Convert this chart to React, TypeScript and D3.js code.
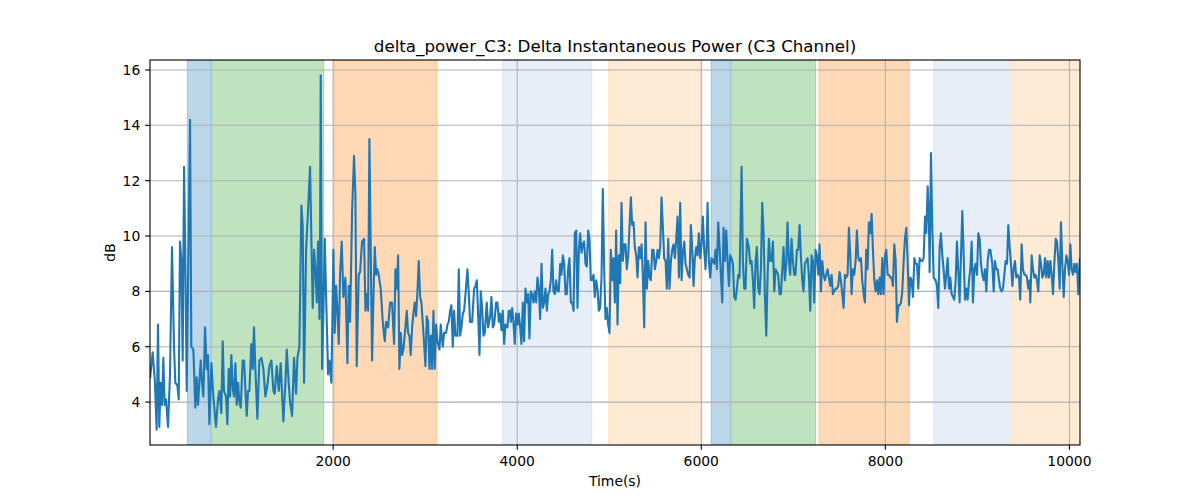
import React from "react";
import * as d3 from "d3";

type P = [number, number];

const seg1: P[] = [[10,4.85],[39,5.8],[64,4.7],[82,3.0],[97,6.8],[111,3.1],[126,4.7],[140,3.9],[155,5.6],[169,3.9],[184,4.1],[206,3.1],[227,5.0],[249,9.6],[271,6.0],[285,4.7],[307,4.6],[322,4.1],[336,9.8],[351,9.1],[365,5.5],[380,12.5],[394,9.1],[409,4.4],[445,14.2],[459,6.0],[481,5.9],[503,3.8],[517,4.9],[532,3.9],[546,4.7],[561,5.5],[575,4.7],[590,4.2],[608,6.7],[626,5.2],[640,5.7],[655,3.2],[677,5.4],[698,4.2],[727,3.1],[749,4.1],[764,4.4],[785,3.6],[800,6.2],[814,4.4],[836,4.2],[851,3.2],[865,5.2],[880,4.2],[894,5.7],[909,4.5],[923,4.2],[938,5.4],[952,3.9],[967,4.7],[981,4.0],[996,3.8],[1017,5.5],[1032,5.5],[1046,4.5],[1061,3.5],[1075,4.4],[1090,4.4],[1111,6.1],[1126,5.2],[1140,6.7],[1155,5.2],[1177,3.4],[1198,5.5],[1220,5.6],[1242,5.2],[1264,4.2],[1285,4.6],[1307,5.3]];
const seg2: P[] = [[1329,5.5],[1351,4.4],[1365,4.3],[1387,5.3],[1409,4.4],[1430,5.4],[1459,3.3],[1481,4.7],[1496,5.9],[1517,4.7],[1532,4.0],[1554,3.5],[1575,5.6],[1597,4.3],[1612,5.6],[1633,6.0],[1655,11.1],[1669,10.4],[1684,4.7],[1706,9.5],[1727,10.9],[1749,12.5],[1764,9.8],[1778,7.4],[1793,9.5],[1807,8.8],[1822,7.6],[1836,9.8],[1851,7.0],[1858,9.8],[1865,15.8],[1880,5.2],[1894,7.3],[1909,9.9],[1923,7.9],[1945,5.0],[1959,5.5],[1981,4.7],[2003,9.5],[2017,6.5],[2032,8.2],[2046,7.3],[2061,6.1],[2075,8.6],[2093,9.8],[2111,7.8],[2133,8.5],[2155,5.4],[2169,8.2],[2184,6.9],[2206,10.9],[2227,12.9],[2242,11.5],[2256,5.3],[2278,8.6],[2293,8.7],[2314,9.8],[2336,9.9],[2351,7.3],[2365,7.9],[2380,7.3],[2394,13.5],[2409,9.3],[2423,5.5],[2438,7.8],[2452,9.6],[2467,8.6],[2481,8.8],[2495,8.6],[2517,8.1],[2539,6.9],[2561,6.2],[2575,6.9],[2597,6.7],[2619,7.6]];
const seg3: P[] = [[2640,7.6],[2662,6.1],[2677,8.8],[2691,8.1],[2706,9.3],[2720,5.2],[2735,6.5],[2749,5.7],[2764,5.9],[2785,6.7],[2800,7.3],[2814,6.5],[2829,6.4],[2843,5.7],[2858,6.7],[2872,7.2],[2887,7.6],[2901,7.1],[2916,8.0],[2930,9.1],[2945,7.8],[2959,7.6],[2981,6.5],[3003,5.3],[3017,7.1],[3032,6.9],[3046,5.2],[3061,6.4],[3075,5.2],[3090,7.3],[3104,5.2],[3119,6.8],[3133,6.2],[3155,5.9],[3169,6.8],[3191,6.0],[3206,6.5],[3227,6.5],[3242,6.8],[3256,6.9],[3271,7.3],[3285,7.5],[3300,6.0],[3314,7.3],[3329,6.4],[3351,6.4],[3365,8.8],[3380,6.4],[3394,6.7],[3409,7.2],[3423,7.3],[3438,7.9],[3459,8.8],[3474,7.9],[3488,6.9],[3510,6.9],[3532,8.1],[3546,8.2],[3561,8.4],[3575,7.2],[3590,5.7],[3604,8.0],[3619,7.4],[3633,6.4],[3648,6.5],[3669,7.6],[3684,6.7],[3706,7.1],[3720,7.8],[3735,6.7],[3749,6.8],[3771,7.6],[3785,7.6],[3800,6.9],[3814,7.2],[3829,6.6],[3843,7.3],[3858,6.1],[3872,6.8],[3894,6.7],[3908,7.3],[3923,7.3]];
const seg4: P[] = [[3930,6.9],[3945,7.4],[3959,6.9],[3974,6.1],[3988,7.2],[4003,6.8],[4017,7.2],[4032,6.7],[4046,6.1],[4061,7.6],[4075,6.2],[4090,8.1],[4104,7.6],[4119,7.9],[4133,6.3],[4148,8.0],[4162,7.9],[4177,7.6],[4191,8.0],[4206,7.6],[4220,8.5],[4235,8.1],[4249,7.0],[4264,9.0],[4278,7.4],[4293,7.6],[4307,8.1],[4322,7.3],[4336,7.9],[4351,8.0],[4365,8.4],[4380,9.5],[4394,8.0],[4409,7.9],[4423,8.4],[4438,8.0],[4452,8.0],[4467,9.0],[4481,8.6],[4496,9.3],[4510,9.0],[4525,7.9],[4539,7.9],[4554,8.8],[4568,9.2],[4583,7.6],[4597,7.6],[4612,7.3],[4626,10.1],[4641,10.2],[4655,7.4],[4670,9.5],[4684,10.1],[4699,9.4],[4713,9.7],[4727,9.8],[4742,9.0],[4756,8.9],[4771,10.2],[4785,9.9],[4800,8.4],[4814,8.4],[4829,8.6],[4843,7.8],[4858,8.4],[4872,8.1],[4887,7.3],[4901,7.4],[4916,8.5],[4930,11.7],[4945,8.8],[4959,7.0],[4974,7.4],[4988,6.8],[5003,6.5],[5017,9.5],[5032,8.4],[5046,9.2],[5061,7.6],[5075,10.2],[5090,6.8],[5104,9.3],[5119,8.3],[5133,11.2],[5148,9.1],[5162,9.7],[5177,9.7],[5191,8.8],[5206,9.3]];
const seg5: P[] = [[5235,11.4],[5249,10.4],[5264,10.5],[5278,9.6],[5293,9.3],[5307,8.5],[5322,9.6],[5336,9.2],[5351,9.7],[5365,8.6],[5380,6.7],[5394,10.5],[5409,8.1],[5423,9.1],[5438,8.5],[5452,8.4],[5467,9.5],[5481,9.5],[5496,8.8],[5510,9.1],[5525,9.5],[5539,9.2],[5554,9.6],[5568,11.4],[5583,10.3],[5597,9.2],[5612,9.1],[5626,8.1],[5641,9.9],[5655,8.1],[5670,9.1],[5684,9.5],[5699,9.7],[5713,9.2],[5728,9.9],[5742,10.7],[5757,8.5],[5771,11.2],[5786,8.4],[5800,9.4],[5815,9.8],[5829,9.0],[5844,8.8],[5858,8.6],[5873,8.5],[5887,10.4],[5901,9.6],[5916,8.2],[5930,9.2],[5945,9.6],[5959,9.3],[5974,10.1],[5988,9.2],[6003,9.7],[6017,10.7],[6032,9.5],[6046,8.8],[6061,9.9],[6068,11.2],[6083,9.1],[6097,8.5],[6112,9.2],[6126,9.1],[6141,9.0],[6155,9.5],[6170,8.8],[6184,10.5],[6199,9.6],[6213,8.6],[6228,7.6],[6242,10.3],[6257,9.1],[6271,10.2],[6286,9.1],[6300,8.2],[6315,9.3],[6329,9.2],[6344,9.0],[6358,7.8],[6373,7.7],[6387,8.1],[6402,8.6],[6416,8.5],[6438,12.5],[6452,9.1],[6467,8.1],[6481,8.1],[6496,9.9],[6517,9.6]];
const seg6: P[] = [[6532,9.0],[6546,9.1],[6561,8.4],[6575,7.4],[6590,9.1],[6604,9.6],[6619,8.1],[6633,7.9],[6648,8.8],[6662,11.2],[6677,10.1],[6691,7.9],[6706,6.4],[6720,8.5],[6735,9.9],[6749,9.1],[6764,9.1],[6778,9.8],[6793,8.0],[6807,8.8],[6822,8.7],[6836,8.6],[6851,7.9],[6865,7.9],[6880,8.8],[6894,9.6],[6908,8.4],[6923,9.0],[6937,10.5],[6952,9.1],[6966,8.6],[6981,9.9],[6995,9.1],[7010,8.6],[7024,8.6],[7039,9.5],[7053,9.5],[7068,10.4],[7082,9.3],[7097,8.4],[7111,8.0],[7126,9.0],[7140,9.1],[7155,9.2],[7169,8.6],[7184,7.3],[7198,9.3],[7213,9.1],[7227,7.6],[7242,9.5],[7256,9.3],[7271,8.6],[7285,9.7],[7300,8.0],[7314,9.1],[7329,8.6],[7343,8.4],[7358,8.6],[7372,8.8],[7387,8.5],[7401,8.2],[7416,8.6],[7430,7.9],[7445,8.0],[7459,8.1],[7474,8.1],[7488,8.2],[7503,8.7],[7517,8.4],[7532,7.9],[7546,7.4],[7561,8.6],[7575,8.5],[7590,8.6],[7604,10.3],[7619,9.3],[7633,7.9],[7648,8.8],[7662,8.6],[7677,9.1],[7691,10.2],[7706,9.2],[7720,9.1],[7735,9.2],[7749,8.4],[7764,7.9],[7778,7.6],[7792,9.5],[7807,8.8],[7821,10.5],[7836,10.1]];
const seg7: P[] = [[7851,10.8],[7865,9.5],[7880,8.4],[7894,8.0],[7909,8.4],[7923,7.9],[7938,8.5],[7952,7.9],[7967,9.2],[7981,7.9],[7996,9.3],[8010,9.5],[8025,8.6],[8039,8.6],[8054,8.5],[8068,8.5],[8083,8.2],[8097,9.7],[8112,9.1],[8126,6.9],[8141,7.5],[8155,7.5],[8170,7.6],[8184,8.0],[8199,9.1],[8213,9.9],[8228,10.3],[8242,9.1],[8257,7.5],[8271,8.5],[8286,8.4],[8300,7.8],[8315,9.2],[8329,9.0],[8344,9.0],[8358,8.1],[8373,9.2],[8387,9.1],[8402,9.1],[8416,9.2],[8431,10.7],[8445,10.1],[8460,11.8],[8474,10.4],[8481,8.7],[8496,13.0],[8510,10.3],[8525,8.5],[8546,8.4],[8561,8.2],[8575,7.4],[8590,9.6],[8604,10.1],[8619,9.3],[8633,8.8],[8648,8.1],[8662,8.6],[8677,9.2],[8691,8.1],[8706,8.5],[8720,7.9],[8735,7.8],[8749,7.7],[8764,8.4],[8778,9.8],[8793,8.7],[8807,7.6],[8822,9.3],[8836,10.9],[8851,9.3],[8865,7.7],[8880,8.1],[8894,7.7],[8909,8.4],[8923,8.8],[8938,9.8],[8952,7.6],[8967,8.8],[8981,9.0],[8996,8.6],[9010,10.1],[9025,9.9],[9039,9.0],[9054,8.6],[9068,8.4],[9083,8.8],[9097,8.0],[9112,9.1],[9126,9.5],[9141,9.5]];
const seg8: P[] = [[9162,9.0],[9177,8.0],[9191,9.1],[9206,8.8],[9220,8.8],[9235,8.4],[9249,8.1],[9264,8.0],[9278,8.1],[9293,8.6],[9307,9.1],[9322,9.0],[9336,10.4],[9351,9.6],[9365,9.0],[9380,8.2],[9394,8.8],[9408,9.1],[9423,8.5],[9437,8.6],[9452,8.5],[9466,7.7],[9481,9.7],[9495,8.8],[9510,8.6],[9524,8.6],[9539,8.5],[9553,8.1],[9568,8.4],[9575,7.6],[9590,9.3],[9604,8.8],[9619,8.5],[9633,8.6],[9648,8.4],[9662,8.0],[9677,9.3],[9691,9.0],[9706,8.5],[9720,8.6],[9735,9.2],[9749,8.5],[9764,9.1],[9778,8.5],[9793,9.1],[9807,8.6],[9822,7.9],[9836,9.0],[9851,9.9],[9865,9.8],[9880,9.1],[9894,8.1],[9908,10.5],[9923,9.0],[9938,7.8],[9952,8.8],[9967,9.3],[9981,9.1],[9996,8.6],[10010,9.7],[10024,8.8],[10039,8.6],[10053,9.0],[10068,8.7],[10082,9.0],[10097,7.9],[10115,9.2]];

const samples: P[] = [...seg1, ...seg2, ...seg3, ...seg4, ...seg5, ...seg6, ...seg7, ...seg8];

// shaded stage spans: [start, end, color]
const spanStarts = [415, 680, 2007, 3840, 4992, 6108, 6325, 7278, 8525, 9366];
const spanEnds = [670, 1898, 3130, 4811, 6007, 6315, 7242, 8260, 9351, 10115];
const spanColors = ["#1f77b4", "#2ca02c", "#ff7f0e", "#aec7e8", "#ffbb78", "#1f77b4", "#2ca02c", "#ff7f0e", "#aec7e8", "#ffbb78"];

const xTicks = [2000, 4000, 6000, 8000, 10000];
const yTicks = [4, 6, 8, 10, 12, 14, 16];
const xDomain: [number, number] = [10, 10115];
const yDomain: [number, number] = [2.45, 16.36];

const title = "delta_power_C3: Delta Instantaneous Power (C3 Channel)";
const xLabel = "Time(s)";
const yLabel = "dB";

const W = 1200, H = 500;
const L = 150, R = 1080, T = 60, B = 445;
const FONT = "DejaVu Sans, sans-serif";

export default function App() {
  const x = d3.scaleLinear().domain(xDomain).range([L, R]);
  const y = d3.scaleLinear().domain(yDomain).range([B, T]);
  const line = d3.line<P>().x(d => x(d[0])).y(d => y(d[1]));
  const tickLen = 4.86;
  const pad = 4.86;
  return (
    <svg width={W} height={H} style={{ position: "absolute", left: 0, top: 0, background: "#fff" }} fontFamily={FONT}>
      <rect x={0} y={0} width={W} height={H} fill="#fff" />
      <defs>
        <clipPath id="plotclip">
          <rect x={L} y={T} width={R - L} height={B - T} />
        </clipPath>
      </defs>
      <g clipPath="url(#plotclip)">
        {spanStarts.map((s, i) => (
          <rect key={i} x={x(s)} y={T} width={x(spanEnds[i]) - x(s)} height={B - T}
            fill={spanColors[i]} fillOpacity={0.3} stroke={spanColors[i]} strokeOpacity={0.3} strokeWidth={1} />
        ))}
        {xTicks.map(t => (
          <line key={"gx" + t} x1={x(t)} x2={x(t)} y1={T} y2={B} stroke="#b0b0b0" strokeWidth={1.1} />
        ))}
        {yTicks.map(t => (
          <line key={"gy" + t} x1={L} x2={R} y1={y(t)} y2={y(t)} stroke="#b0b0b0" strokeWidth={1.1} />
        ))}
        <path d={line(samples) || ""} fill="none" stroke="#1f77b4" strokeWidth={2.1} strokeLinejoin="round" strokeLinecap="butt" />
      </g>
      <rect x={L} y={T} width={R - L} height={B - T} fill="none" stroke="#000" strokeWidth={1.1} />
      {xTicks.map(t => (
        <g key={"tx" + t}>
          <line x1={x(t)} x2={x(t)} y1={B} y2={B + tickLen} stroke="#000" strokeWidth={1.1} />
          <text x={x(t)} y={B + tickLen + pad + 11} textAnchor="middle" fontSize={13.9} fill="#000">{t}</text>
        </g>
      ))}
      {yTicks.map(t => (
        <g key={"ty" + t}>
          <line x1={L - tickLen} x2={L} y1={y(t)} y2={y(t)} stroke="#000" strokeWidth={1.1} />
          <text x={L - tickLen - pad} y={y(t) + 5} textAnchor="end" fontSize={13.9} fill="#000">{t}</text>
        </g>
      ))}
      <text x={(L + R) / 2} y={T - 8.5} textAnchor="middle" fontSize={16.7} fill="#000">{title}</text>
      <text x={(L + R) / 2} y={486} textAnchor="middle" fontSize={13.9} fill="#000">{xLabel}</text>
      <text transform={`translate(115, ${(T + B) / 2}) rotate(-90)`} textAnchor="middle" fontSize={13.9} fill="#000">{yLabel}</text>
    </svg>
  );
}
